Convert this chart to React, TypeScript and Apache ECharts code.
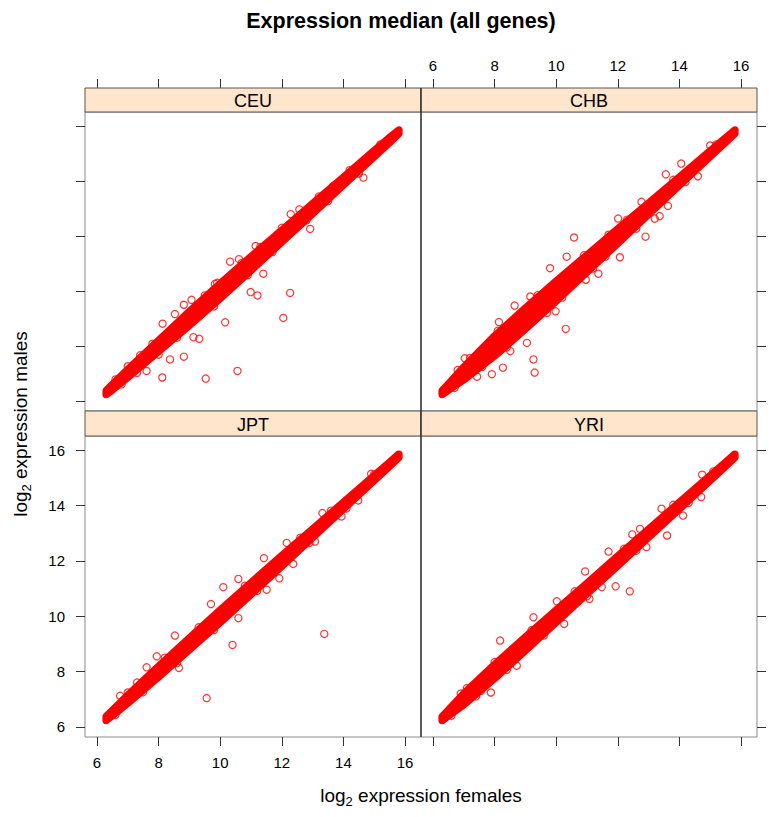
import React, { useEffect, useRef } from "react";
import * as echarts from "echarts";

// ---------- data ----------
const panelNames = ["CEU", "CHB", "JPT", "YRI"];
const tickValues = [6, 8, 10, 12, 14, 16];
const chartTitle = "Expression median (all genes)";

// x positions at which the dense core of the point cloud was read
const bandX = [6.3, 6.5, 7, 8, 9, 10, 11, 12, 13, 14, 15, 15.5, 15.8];

// lower / upper edge (males) of the dense core of points, per population
const ceuLow = [6.23, 6.4, 6.86, 7.8, 8.75, 9.73, 10.75, 11.79, 12.82, 13.86, 14.89, 15.41, 15.74];
const ceuHigh = [6.37, 6.6, 7.14, 8.2, 9.25, 10.27, 11.25, 12.21, 13.18, 14.14, 15.11, 15.59, 15.86];
const chbLow = [6.23, 6.39, 6.77, 7.64, 8.62, 9.64, 10.69, 11.74, 12.8, 13.85, 14.9, 15.42, 15.74];
const chbHigh = [6.37, 6.61, 7.23, 8.36, 9.38, 10.36, 11.31, 12.26, 13.2, 14.15, 15.1, 15.58, 15.86];
const jptLow = [6.23, 6.41, 6.86, 7.81, 8.79, 9.78, 10.79, 11.81, 12.85, 13.88, 14.91, 15.43, 15.74];
const jptHigh = [6.37, 6.59, 7.14, 8.19, 9.21, 10.22, 11.21, 12.19, 13.15, 14.12, 15.09, 15.57, 15.86];
const yriLow = [6.23, 6.4, 6.8, 7.75, 8.76, 9.78, 10.81, 11.83, 12.86, 13.88, 14.91, 15.43, 15.74];
const yriHigh = [6.37, 6.6, 7.2, 8.25, 9.24, 10.22, 11.19, 12.17, 13.14, 14.12, 15.09, 15.57, 15.86];

// individual genes visible as separate circles [female, male]
const ceuPoints = [
  [12.27, 9.93], [12.05, 9.02], [10.16, 8.86], [10.56, 7.09], [9.53, 6.81], [8.12, 6.85],
  [8.82, 7.61], [9.32, 8.26], [9.13, 8.32], [11.21, 9.84], [10.99, 9.96], [11.4, 10.63],
  [10.61, 11.16], [10.32, 11.07], [11.15, 11.64], [8.13, 8.81], [8.53, 9.16], [8.82, 9.5],
  [9.07, 9.68], [7.61, 7.09], [8.37, 7.51], [12.29, 12.8], [12.57, 12.97], [12.92, 12.26],
  [13.67, 13.83], [14.65, 14.13], [11.89, 12.1], [9.83, 10.26],
  [7.0, 7.26], [7.3, 7.02], [7.8, 8.08], [8.0, 7.68], [9.5, 9.84], [9.8, 9.44], [10.7, 11.02],
  [11.7, 11.42], [12.0, 12.3], [13.2, 13.44], [13.5, 13.27], [14.2, 14.4], [14.5, 14.28],
  [15.2, 15.34], [6.8, 6.6], [8.6, 8.3], [10.9, 10.58], [12.8, 12.57], [6.6, 6.78],
  [7.4, 7.66], [9.9, 10.3], [11.3, 11.6],
];
const chbPoints = [
  [10.58, 11.95], [10.31, 8.62], [9.26, 7.51], [9.3, 7.03], [8.27, 7.21], [7.91, 6.97],
  [7.43, 6.88], [7.03, 7.55], [9.8, 10.83], [9.05, 8.11], [12.07, 11.23], [12.9, 11.98],
  [13.2, 12.64], [13.36, 12.73], [12.01, 12.64], [13.56, 14.25], [14.06, 14.64], [14.6, 14.18],
  [15.0, 15.3], [11.37, 10.63], [10.96, 10.41], [8.65, 9.47], [9.16, 9.8], [8.14, 8.87],
  [8.51, 7.81], [9.98, 9.26], [13.63, 13.1], [12.77, 13.25], [10.34, 11.25],
  [7.2, 7.56], [7.6, 7.24], [8.1, 8.55], [8.4, 7.95], [9.4, 9.85], [9.7, 9.2], [10.9, 11.3],
  [11.2, 10.82], [12.3, 12.6], [12.6, 12.27], [13.8, 14.05], [14.2, 13.97], [15.2, 15.34],
  [6.7, 6.47], [11.7, 12.05], [10.2, 9.76], [6.8, 7.12], [11.6, 11.25],
];
const jptPoints = [
  [13.38, 9.36], [10.4, 8.96], [9.56, 7.04], [10.1, 11.05], [10.59, 11.35], [11.51, 10.96],
  [11.92, 11.37], [11.42, 12.1], [12.16, 12.65], [13.32, 13.73], [14.48, 14.19], [14.9, 15.15],
  [8.53, 9.3], [7.94, 8.55], [7.61, 8.15], [6.75, 7.12], [10.59, 9.93], [9.7, 10.44],
  [8.66, 8.13], [12.37, 11.89], [13.08, 12.7], [13.94, 13.61],
  [7.0, 7.24], [7.5, 7.25], [8.2, 8.5], [8.6, 8.3], [9.3, 9.6], [9.8, 9.5], [10.8, 11.1],
  [11.2, 10.92], [12.6, 12.84], [12.9, 12.65], [13.6, 13.82], [14.1, 13.9], [15.0, 15.13],
  [6.6, 6.43], [7.3, 7.6],
];
const yriPoints = [
  [12.39, 10.9], [11.93, 11.08], [13.6, 12.92], [14.71, 14.31], [14.74, 15.12], [8.18, 9.12],
  [7.88, 7.24], [7.56, 7.3], [10.26, 9.72], [11.08, 10.63], [10.94, 11.62], [10.02, 10.54],
  [8.72, 8.21], [9.26, 9.96], [12.72, 13.16], [13.42, 13.89], [14.12, 13.64], [12.93, 12.5],
  [11.48, 11.05], [12.47, 12.96], [11.7, 12.34],
  [7.1, 7.4], [7.4, 7.1], [8.0, 8.34], [8.4, 8.06], [9.2, 9.5], [9.6, 9.3], [10.6, 10.9],
  [11.0, 10.72], [12.2, 12.44], [12.6, 12.37], [13.8, 14.03], [14.3, 14.1], [15.1, 15.24],
  [6.6, 6.4], [6.9, 7.2],
];

// ---------- styling / layout ----------
const FONT = '"Liberation Sans", Arial, Helvetica, sans-serif';
const RED = "#ff0000";
const XMIN = 5.61;
const XMAX = 16.52;
const YMIN = 5.63;
const YMAX = 16.52;

const grids = [
  { left: 85, top: 112, width: 336, height: 299 },
  { left: 421, top: 112, width: 336, height: 299 },
  { left: 85, top: 436, width: 336, height: 301 },
  { left: 421, top: 436, width: 336, height: 301 },
];
const strips = [
  { x: 85, y: 88, w: 336, h: 24 },
  { x: 421, y: 88, w: 336, h: 24 },
  { x: 85, y: 411, w: 336, h: 25 },
  { x: 421, y: 411, w: 336, h: 25 },
];
// [xPos, xOffset, xLabels, yPos, yLabels]
const axisSetup: any[] = [
  ["top", 24, false, "left", false],
  ["top", 24, true, "right", false],
  ["bottom", 0, true, "left", true],
  ["bottom", 0, false, "right", false],
];

const bandLows = [ceuLow, chbLow, jptLow, yriLow];
const bandHighs = [ceuHigh, chbHigh, jptHigh, yriHigh];
const pointSets = [ceuPoints, chbPoints, jptPoints, yriPoints];

export default function App() {
  const ref = useRef<HTMLDivElement>(null);

  useEffect(() => {
    if (!ref.current) return;
    const chart = echarts.init(ref.current, undefined, { renderer: "svg" });

    const tickStyle = { color: "#333", width: 1 };
    const xAxis = axisSetup.map((a, i) => ({
      type: "value",
      gridIndex: i,
      position: a[0],
      offset: a[1],
      min: XMIN,
      max: XMAX,
      axisLine: { show: false, onZero: false },
      axisTick: { show: true, inside: false, length: 9, lineStyle: tickStyle, customValues: tickValues },
      axisLabel: {
        show: a[2],
        customValues: tickValues,
        margin: a[0] === "top" ? 15 : 18,
        fontSize: 15,
        fontFamily: FONT,
        color: "#000",
      },
      splitLine: { show: false },
    }));
    const yAxis = axisSetup.map((a, i) => ({
      type: "value",
      gridIndex: i,
      position: a[3],
      min: YMIN,
      max: YMAX,
      axisLine: { show: false, onZero: false },
      axisTick: { show: true, inside: false, length: 9, lineStyle: tickStyle, customValues: tickValues },
      axisLabel: {
        show: a[4],
        customValues: tickValues,
        margin: 20,
        fontSize: 15,
        fontFamily: FONT,
        color: "#000",
      },
      splitLine: { show: false },
    }));

    const series: any[] = [];
    for (let i = 0; i < 4; i++) {
      const low = bandLows[i];
      const high = bandHighs[i];
      series.push({
        type: "custom",
        xAxisIndex: i,
        yAxisIndex: i,
        silent: true,
        z: 2,
        data: [[bandX[0], low[0]]],
        renderItem: (_params: any, api: any) => {
          const pts: number[][] = [];
          for (let k = 0; k < bandX.length; k++) pts.push(api.coord([bandX[k], low[k]]));
          for (let k = bandX.length - 1; k >= 0; k--) pts.push(api.coord([bandX[k], high[k]]));
          return {
            type: "polygon",
            shape: { points: pts },
            style: { fill: RED, stroke: RED, lineWidth: 7.6, lineJoin: "round" },
          };
        },
      });
      series.push({
        type: "scatter",
        xAxisIndex: i,
        yAxisIndex: i,
        silent: true,
        z: 3,
        symbol: "circle",
        symbolSize: 7.2,
        itemStyle: { color: "rgba(255,0,0,0)", borderColor: RED, borderWidth: 1.2 },
        data: pointSets[i],
      });
    }

    const graphic: any[] = [];
    strips.forEach((s, i) => {
      graphic.push({
        type: "rect",
        shape: { x: s.x, y: s.y, width: s.w, height: s.h },
        style: { fill: "#ffe5cc", stroke: "#555", lineWidth: 1 },
        z: 10,
      });
      graphic.push({
        type: "text",
        x: s.x + s.w / 2,
        y: s.y + s.h / 2 + 1,
        style: {
          text: panelNames[i],
          fontSize: 18,
          fontFamily: FONT,
          fill: "#000",
          align: "center",
          verticalAlign: "middle",
        },
        z: 11,
      });
    });
    graphic.push({
      type: "line",
      shape: { x1: 421, y1: 88, x2: 421, y2: 737 },
      style: { stroke: "#111", lineWidth: 1 },
      z: 12,
    });
    graphic.push({
      type: "text",
      x: 401,
      y: 21,
      style: {
        text: chartTitle,
        fontSize: 21.5,
        fontWeight: "bold",
        fontFamily: FONT,
        fill: "#000",
        align: "center",
        verticalAlign: "middle",
      },
    });
    const rich = {
      a: { fontSize: 19, fontFamily: FONT, fill: "#000", color: "#000", lineHeight: 26, verticalAlign: "middle" },
      s: { fontSize: 13, fontFamily: FONT, fill: "#000", color: "#000", lineHeight: 26, verticalAlign: "bottom" },
    };
    graphic.push({
      type: "text",
      x: 421,
      y: 795,
      style: {
        text: "{a|log}{s|2}{a| expression females}",
        rich,
        align: "center",
        verticalAlign: "middle",
      },
    });
    graphic.push({
      type: "text",
      x: 20,
      y: 424,
      rotation: Math.PI / 2,
      style: {
        text: "{a|log}{s|2}{a| expression males}",
        rich,
        align: "center",
        verticalAlign: "middle",
      },
    });

    chart.setOption({
      animation: false,
      backgroundColor: "#fff",
      grid: grids.map((g) => ({ ...g, show: true, borderColor: "#8a8a8a", borderWidth: 1, backgroundColor: "transparent" })),
      xAxis,
      yAxis,
      series,
      graphic,
    });

    return () => chart.dispose();
  }, []);

  return <div ref={ref} style={{ position: "absolute", left: 0, top: 0, width: 769, height: 817 }} />;
}
